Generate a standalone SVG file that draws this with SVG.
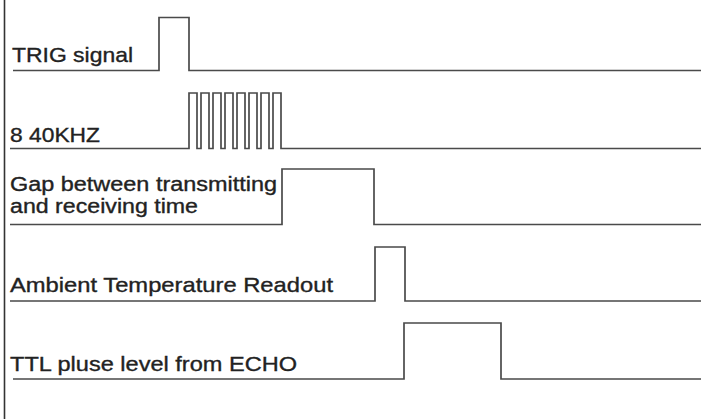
<svg xmlns="http://www.w3.org/2000/svg" width="701" height="419" viewBox="0 0 701 419">
<style>
.sig{fill:none;stroke:#4a4a4a;stroke-width:1.7;stroke-linejoin:miter}
.lbl{font-family:"Liberation Sans",Arial,sans-serif;font-size:21px;fill:#222;stroke:#222;stroke-width:0.35}
.sm{font-size:20px}
.frame{stroke:#333;stroke-width:1.6}
</style>
<rect width="701" height="419" fill="#fff"/>
<line class="frame" x1="4.5" y1="0" x2="4.5" y2="419"/>
<g id="trig">
<text class="lbl" x="12" y="62" textLength="121" lengthAdjust="spacingAndGlyphs">TRIG signal</text>
</g>
<g id="burst">
<text class="lbl" x="10" y="142" textLength="90" lengthAdjust="spacingAndGlyphs">8 40KHZ</text>
</g>
<g id="gap">
<text class="lbl sm" x="10" y="191" textLength="267" lengthAdjust="spacingAndGlyphs">Gap between transmitting</text>
<text class="lbl sm" x="10" y="213" textLength="188" lengthAdjust="spacingAndGlyphs">and receiving time</text>
</g>
<g id="ambient">
<text class="lbl" x="10" y="292" textLength="323" lengthAdjust="spacingAndGlyphs">Ambient Temperature Readout</text>
</g>
<g id="ttl">
<text class="lbl" x="10" y="371" textLength="287" lengthAdjust="spacingAndGlyphs">TTL pluse level from ECHO</text>
</g>
<g id="connectors">
<path class="sig" d="M13 70.5 H159 V17.5 H189 V70.5 H701"/>
<path class="sig" d="M10 148.5 H189 V93 H197 V148.5 H201 V93 H209 V148.5 H213 V93 H221 V148.5 H225 V93 H233 V148.5 H237 V93 H245 V148.5 H249 V93 H257 V148.5 H261 V93 H269 V148.5 H273 V93 H281 V148.5 H701"/>
<path class="sig" d="M10 224.5 H282 V169 H374 V224.5 H701"/>
<path class="sig" d="M10 301 H375 V247 H405 V301 H701"/>
<path class="sig" d="M13 379 H404 V323 H501 V379 H701"/>
</g>
</svg>
